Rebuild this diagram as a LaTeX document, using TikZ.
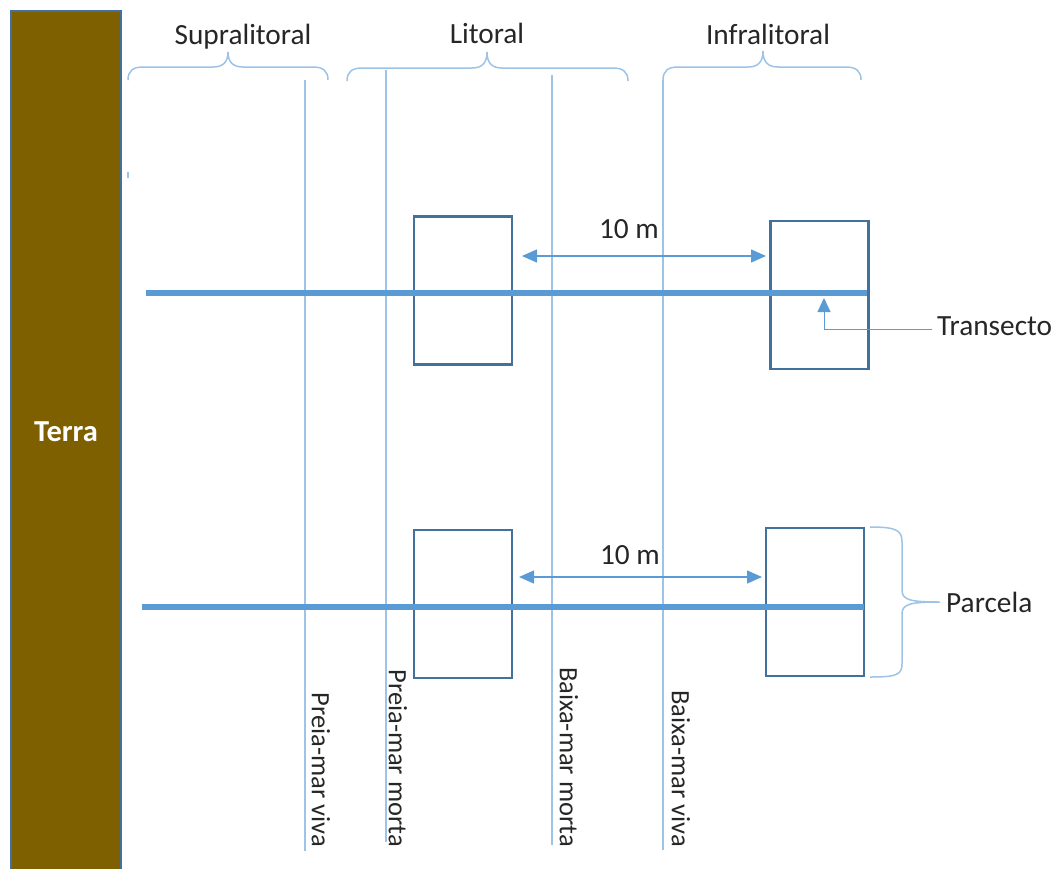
\documentclass[tikz,border=0pt]{standalone}
\usepackage{fontspec}
\setmainfont{Carlito}
\usetikzlibrary{arrows.meta}
\definecolor{terra}{HTML}{7F6000}
\definecolor{edgeblue}{HTML}{41719C}
\definecolor{accent}{HTML}{5B9BD5}
\definecolor{lightblue}{HTML}{9DC3E6}
\begin{document}
\begin{tikzpicture}[x=1pt,y=-1pt,
 lbl/.style={font=\fontsize{29.3}{31}\selectfont, inner sep=0pt, text=black!85},
 vlbl/.style={font=\fontsize{26.5}{28}\selectfont, inner sep=0pt, rotate=-90, anchor=east, text=black!85},
 tide/.style={draw=lightblue, line width=1.5pt},
 brc/.style={draw=lightblue, line width=1.5pt},
 plotbox/.style={draw=edgeblue, line width=2.2pt, minimum width=98pt, minimum height=148pt, inner sep=0pt},
 transect/.style={draw=accent, line width=6pt},
 dist/.style={draw=accent, line width=1.5pt, {Triangle[length=15pt,width=13pt]}-{Triangle[length=15pt,width=13pt]}},
 callout/.style={draw=accent, line width=1pt, -{Triangle[length=14pt,width=13pt]}},
]
\useasboundingbox (0,0) rectangle (1057,868);
% land
\node[draw=edgeblue, fill=terra, line width=2pt, minimum width=110pt, minimum height=880pt, anchor=north west, inner sep=0pt] (terra) at (10,10) {};
\node[lbl, text=white, font=\fontsize{30.5}{32}\selectfont\bfseries, anchor=base] (terralbl) at (66,441) {Terra};

% zone labels
\node[lbl, anchor=base] (supra) at (243,44) {Supralitoral};
\node[lbl, anchor=base] (lit) at (487,43) {Litoral};
\node[lbl, anchor=base] (infra) at (768,44) {Infralitoral};

% top braces
\draw[brc] (128,80) .. controls (128,71) and (133,67) .. (143,67) -- (213,67) .. controls (223,67) and (228,62) .. (228,52) .. controls (228,62) and (233,67) .. (243,67) -- (313,67) .. controls (323,67) and (328,71) .. (328,80);
\draw[brc] (347,81) .. controls (347,72) and (352,68) .. (362,68) -- (472,68) .. controls (482,68) and (487,63) .. (487,52) .. controls (487,63) and (492,68) .. (502,68) -- (613,68) .. controls (623,68) and (628,72) .. (628,81);
\draw[brc] (663,80) .. controls (663,71) and (668,67) .. (678,67) -- (748,67) .. controls (758,67) and (763,62) .. (763,51) .. controls (763,62) and (768,67) .. (778,67) -- (846,67) .. controls (856,67) and (861,71) .. (861,80);
% small tick
\coordinate (tickA) at (128,172);
\coordinate (tickB) at (128,178);
\draw[brc] (tickA) -- (tickB);

% tide lines
\coordinate (pmvT) at (305,80);  \coordinate (pmvB) at (305,851);
\coordinate (pmmT) at (386,70);  \coordinate (pmmB) at (386,842);
\coordinate (bmmT) at (552,75);  \coordinate (bmmB) at (552,845);
\coordinate (bmvT) at (663,80);  \coordinate (bmvB) at (663,850);
\draw[tide] (pmvT) -- (pmvB);
\draw[tide] (pmmT) -- (pmmB);
\draw[tide] (bmmT) -- (bmmB);
\draw[tide] (bmvT) -- (bmvB);

% tide labels
\node[vlbl] (lpmv) at (321,847) {Preia-mar viva};
\node[vlbl] (lpmm) at (398,847) {Preia-mar morta};
\node[vlbl] (lbmm) at (569,847) {Baixa-mar morta};
\node[vlbl] (lbmv) at (681,847) {Baixa-mar viva};

% plots
\node[plotbox] (p1) at (463,290.5) {};
\node[plotbox] (p2) at (819.5,295) {};
\node[plotbox] (p3) at (463,604) {};
\node[plotbox] (p4) at (815,602) {};

% transects
\coordinate (t1s) at (146,293);
\coordinate (t1e) at (867,293);
\coordinate (t2s) at (142,607);
\coordinate (t2e) at (864,607);
\draw[transect] (t1s) -- (t1e);
\draw[transect] (t2s) -- (t2e);

% distances
\coordinate (d1a) at (522,256);
\coordinate (d1b) at (766,256);
\draw[dist] (d1a) -- (d1b);
\node[lbl, anchor=base] (d1l) at (629,238) {10 m};
\coordinate (d2a) at (519,577);
\coordinate (d2b) at (762,577);
\draw[dist] (d2a) -- (d2b);
\node[lbl, anchor=base] (d2l) at (630,564) {10 m};

% Transecto callout
\node[lbl, anchor=base west] (transecto) at (937,335) {Transecto};
\coordinate (cstart) at (932,329);
\coordinate (ctip) at (824,298);
\draw[callout] (cstart) -| (ctip);

% Parcela brace
\node[lbl, anchor=base west] (parcela) at (946,612) {Parcela};
\draw[brc] (870,527) .. controls (896,527) and (902,530) .. (902,542) -- (902,590) .. controls (902,600) and (910,602) .. (940,602) .. controls (910,602) and (902,604) .. (902,614) -- (902,664) .. controls (902,675) and (896,677) .. (870,677);
\end{tikzpicture}
\end{document}
